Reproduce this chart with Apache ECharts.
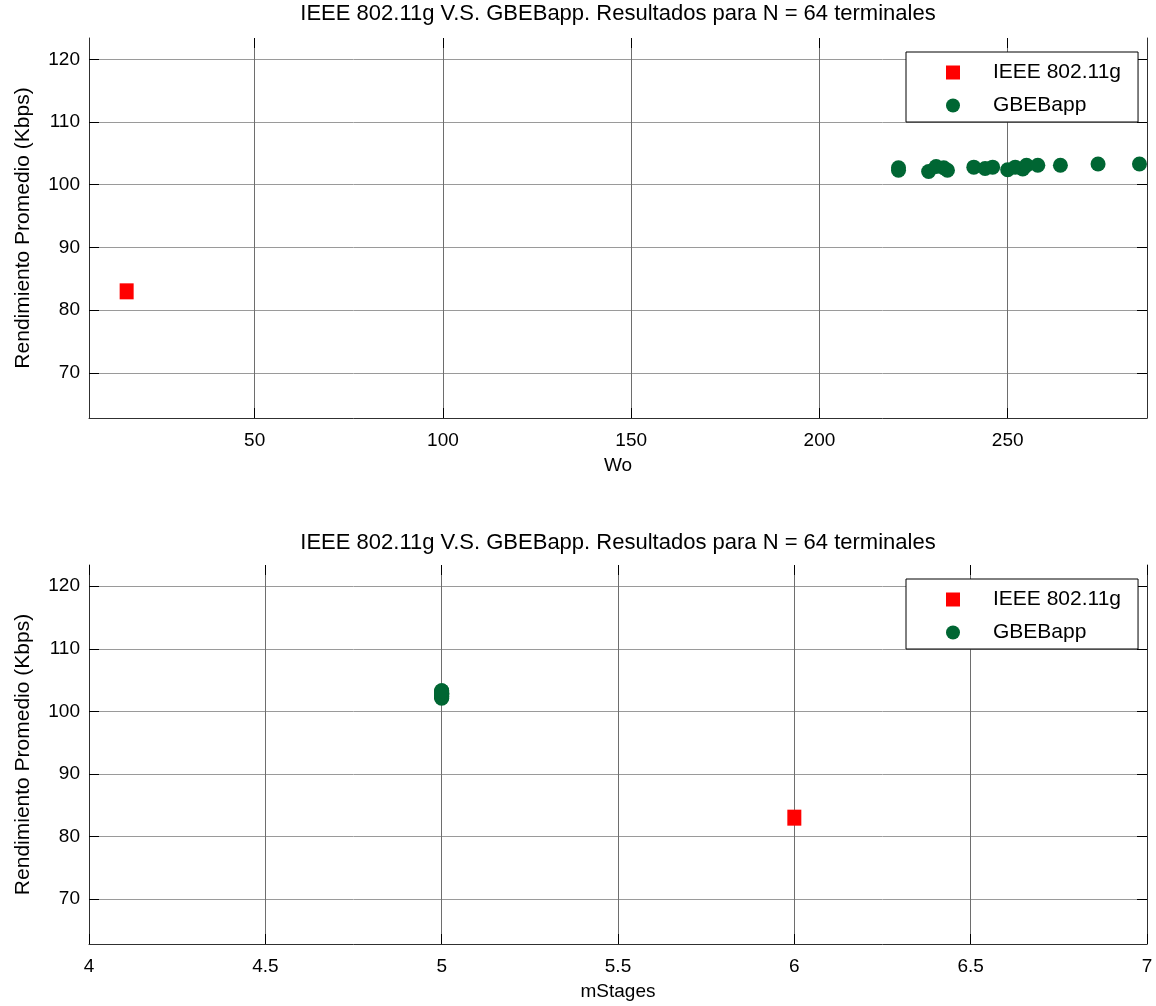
<!DOCTYPE html>
<html>
<head>
<meta charset="utf-8">
<script src="https://cdn.jsdelivr.net/npm/echarts@6/dist/echarts.min.js"></script>
<style>
  html, body { margin: 0; padding: 0; background: #fff; }
  #chart { width: 1156px; height: 1006px; }
</style>
</head>
<body>
<div id="chart"></div>
<script>
// IEEE 802.11g reference point
const IEEE_WO = [16];
const IEEE_MSTAGES = [6];
const IEEE_THR = [83];

// GBEBapp configurations found by the search
const GBEB_WO = [221, 221, 229, 231, 233, 234, 241, 244, 246, 250, 252, 254, 255, 258, 264, 274, 285];
const GBEB_MSTAGES = [5, 5, 5, 5, 5, 5, 5, 5, 5, 5, 5, 5, 5, 5, 5, 5, 5];
const GBEB_THR = [102.7, 102.3, 102.1, 102.9, 102.7, 102.3, 102.8, 102.6, 102.8, 102.4, 102.8, 102.5, 103.1, 103.1, 103.1, 103.3, 103.3];

// Tick labels
const WO_TICKS = [50, 100, 150, 200, 250];
const MSTAGES_TICKS = [4, 4.5, 5, 5.5, 6, 6.5, 7];
const THR_TICKS = [70, 80, 90, 100, 110, 120];

const SERIES_NAMES = ['IEEE 802.11g', 'GBEBapp'];
const TITLE = 'IEEE 802.11g V.S. GBEBapp. Resultados para N = 64 terminales';
const Y_NAME = 'Rendimiento Promedio (Kbps)';

const FONT = "'Liberation Sans', Arial, sans-serif";
const RED = '#ff0000';
const GREEN = '#006633';
const AXIS = '#303030';
// legend marker: a small square centred in a wide, otherwise empty icon box
const SQUARE_ICON = 'path://M0,0M70,14M28,0H42V14H28Z';

const pairs = (xs, ys) => xs.map((x, i) => [x, ys[i]]);

const grids = [
  { left: 89, top: 38, width: 1058, height: 380 },
  { left: 89, top: 565, width: 1058, height: 379 }
];

const tickStyle = { color: '#000', width: 1 };

function xAxes(gridIndex, min, max, ticks, name) {
  return [
    {
      type: 'value', gridIndex, min, max, position: 'bottom',
      name, nameLocation: 'middle', nameGap: 38,
      nameTextStyle: { fontFamily: FONT, fontSize: 19, color: '#000' },
      axisLine: { show: true, onZero: false, lineStyle: { color: AXIS, width: 1 } },
      axisTick: { show: true, inside: true, length: 10, customValues: ticks, lineStyle: tickStyle },
      axisLabel: { customValues: ticks, margin: 13, fontFamily: FONT, fontSize: 19, color: '#000',
                   showMinLabel: true, showMaxLabel: true },
      splitLine: { show: true, lineStyle: { color: '#6e6e6e', width: 1 } }
    },
    {
      type: 'value', gridIndex, min, max, position: 'top',
      axisLine: { show: false },
      axisTick: { show: true, inside: true, length: 10, customValues: ticks, lineStyle: tickStyle },
      axisLabel: { show: false },
      splitLine: { show: false }
    }
  ];
}

function yAxes(gridIndex) {
  return [
    {
      type: 'value', gridIndex, min: 62.8, max: 123.4, position: 'left',
      name: Y_NAME, nameLocation: 'middle', nameGap: 55,
      nameTextStyle: { fontFamily: FONT, fontSize: 21, color: '#000' },
      axisLine: { show: true, onZero: false, lineStyle: { color: AXIS, width: 1 } },
      axisTick: { show: true, inside: true, length: 10, customValues: THR_TICKS, lineStyle: tickStyle },
      axisLabel: { customValues: THR_TICKS, margin: 9, fontFamily: FONT, fontSize: 19, color: '#000' },
      splitLine: { show: true, lineStyle: { color: '#9a9a9a', width: 1 } }
    },
    {
      type: 'value', gridIndex, min: 62.8, max: 123.4, position: 'right',
      axisLine: { show: true, onZero: false, lineStyle: { color: AXIS, width: 1 } },
      axisTick: { show: true, inside: true, length: 10, customValues: THR_TICKS, lineStyle: tickStyle },
      axisLabel: { show: false },
      splitLine: { show: false }
    }
  ];
}

function legendFor(top) {
  return {
    orient: 'vertical', left: 906, top,
    data: [{ name: SERIES_NAMES[0], icon: SQUARE_ICON }, { name: SERIES_NAMES[1], icon: 'circle' }],
    itemWidth: 70, itemHeight: 14, itemGap: 12,
    padding: [10, 17, 6, 12],
    borderColor: '#000', borderWidth: 1, backgroundColor: '#fff',
    selectedMode: false,
    textStyle: { fontFamily: FONT, fontSize: 21, color: '#000' }
  };
}

function titleFor(top) {
  return {
    text: TITLE, left: 618, top, textAlign: 'center', padding: 0,
    textStyle: { fontFamily: FONT, fontSize: 22, fontWeight: 'normal', color: '#000' }
  };
}

const option = {
  animation: false,
  backgroundColor: '#fff',
  title: [titleFor(3), titleFor(532)],
  legend: [legendFor(52), legendFor(579)],
  grid: grids,
  xAxis: [
    ...xAxes(0, 6, 287, WO_TICKS, 'Wo'),
    ...xAxes(1, 4, 7, MSTAGES_TICKS, 'mStages')
  ],
  yAxis: [...yAxes(0), ...yAxes(1)],
  series: [
    {
      name: SERIES_NAMES[0], type: 'scatter', xAxisIndex: 0, yAxisIndex: 0,
      symbol: 'rect', symbolSize: [14, 16], itemStyle: { color: RED, opacity: 1 },
      data: pairs(IEEE_WO, IEEE_THR)
    },
    {
      name: SERIES_NAMES[1], type: 'scatter', xAxisIndex: 0, yAxisIndex: 0,
      symbol: 'circle', symbolSize: 15, itemStyle: { color: GREEN, opacity: 1 },
      data: pairs(GBEB_WO, GBEB_THR)
    },
    {
      name: SERIES_NAMES[0], type: 'scatter', xAxisIndex: 2, yAxisIndex: 2,
      symbol: 'rect', symbolSize: [14, 16], itemStyle: { color: RED, opacity: 1 },
      data: pairs(IEEE_MSTAGES, IEEE_THR)
    },
    {
      name: SERIES_NAMES[1], type: 'scatter', xAxisIndex: 2, yAxisIndex: 2,
      symbol: 'circle', symbolSize: 15, itemStyle: { color: GREEN, opacity: 1 },
      data: pairs(GBEB_MSTAGES, GBEB_THR)
    }
  ]
};

const chart = echarts.init(document.getElementById('chart'), null, { renderer: 'canvas' });
chart.setOption(option);
</script>
</body>
</html>
